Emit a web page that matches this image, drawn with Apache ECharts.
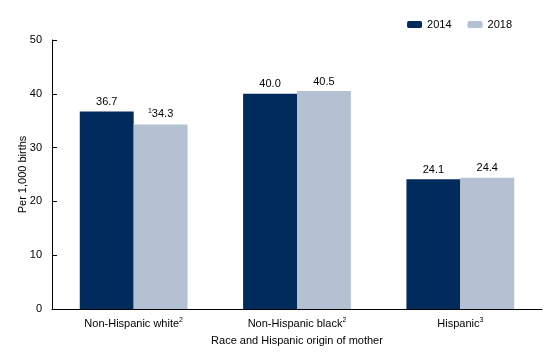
<!DOCTYPE html>
<html><head><meta charset="utf-8">
<script src="https://cdn.jsdelivr.net/npm/echarts@6/dist/echarts.min.js"></script>
<style>html,body{margin:0;padding:0;background:#fff}#c{width:560px;height:363px}</style>
</head><body><div id="c"></div>
<script>
var categories = ['Non-Hispanic white', 'Non-Hispanic black', 'Hispanic'];
var categorySup = ['2', '2', '3'];
var seriesNames = ['2014', '2018'];
var values2014 = [36.7, 40.0, 24.1];
var values2018 = [34.3, 40.5, 24.4];
var labelSup2018 = ['1', '', ''];
var yTicks = [0, 10, 20, 30, 40, 50];

var font = 'Liberation Sans, Arial, sans-serif';
var chart = echarts.init(document.getElementById('c'));
chart.setOption({
  animation: false,
  textStyle: {fontFamily: font},
  legend: {
    top: 14, right: 43, itemWidth: 15, itemHeight: 7, itemGap: 16,
    textStyle: {fontSize: 11, color: '#000', fontFamily: font},
    data: seriesNames
  },
  grid: {left: 52, right: 18, top: 40, bottom: 54, containLabel: false, outerBoundsMode: 'none'},
  xAxis: {
    type: 'category', data: categories,
    axisLine: {lineStyle: {color: '#000', width: 1}},
    axisTick: {show: false},
    axisLabel: {
      color: '#000', fontSize: 11, margin: 8, fontFamily: font,
      formatter: function (v, i) { return v + '{s|' + categorySup[i] + '}'; },
      rich: {s: {fontSize: 7, verticalAlign: 'top', padding: [0, 0, 6, 0], color: '#000', fontFamily: font}}
    },
    name: 'Race and Hispanic origin of mother', nameLocation: 'middle', nameGap: 26,
    nameTextStyle: {color: '#000', fontSize: 11, fontFamily: font}
  },
  yAxis: {
    type: 'value', min: 0, max: 50, interval: 10,
    axisLine: {show: true, lineStyle: {color: '#000', width: 1}},
    axisTick: {show: true, inside: true, length: 5, lineStyle: {color: '#000'}},
    splitLine: {show: false},
    axisLabel: {color: '#000', fontSize: 11, margin: 10, fontFamily: font,
      formatter: function (v) { return yTicks.indexOf(v) >= 0 ? String(v) : ''; }},
    name: 'Per 1,000 births', nameLocation: 'middle', nameGap: 24, nameRotate: 90,
    nameMoveOverlap: false,
    nameTextStyle: {color: '#000', fontSize: 11, fontFamily: font}
  },
  series: [
    {name: '2014', type: 'bar', data: values2014, barGap: '0%', barCategoryGap: '34%',
     itemStyle: {color: '#002b5c'},
     label: {show: true, position: 'top', distance: 4, color: '#000', fontSize: 11, fontFamily: font,
       formatter: function (p) { return p.value.toFixed(1); }}},
    {name: '2018', type: 'bar', data: values2018,
     itemStyle: {color: '#b3c1d2'},
     label: {show: true, position: 'top', distance: 4, color: '#000', fontSize: 11, fontFamily: font,
       formatter: function (p) {
         var s = labelSup2018[p.dataIndex];
         return (s ? '{s|' + s + '}' : '') + p.value.toFixed(1);
       },
       rich: {s: {fontSize: 7, verticalAlign: 'top', padding: [0, 0, 6, 0], color: '#000', fontFamily: font}}}}
  ]
});
</script></body></html>
